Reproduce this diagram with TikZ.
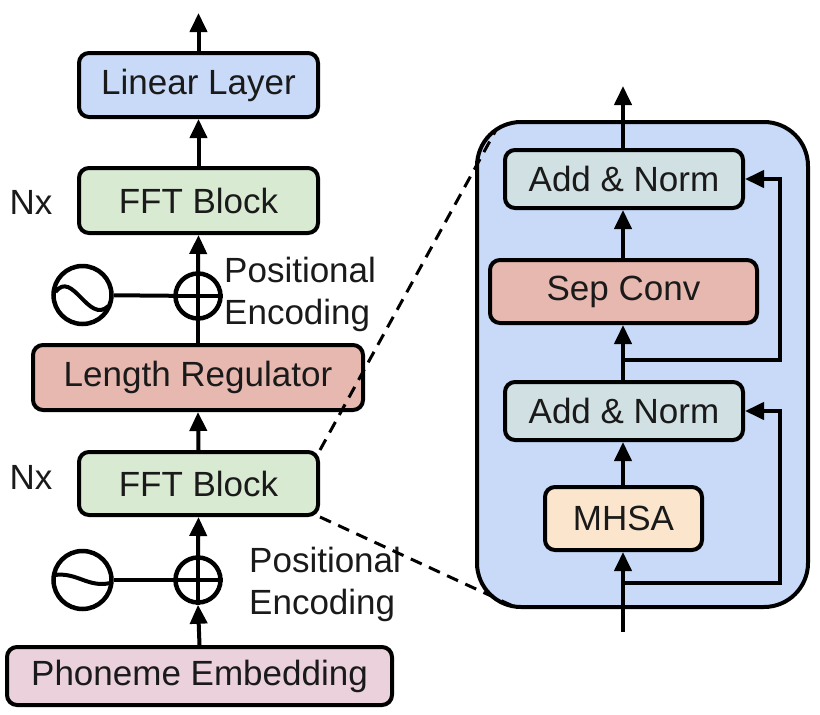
\documentclass[tikz,border=0pt]{standalone}
\usepackage{fontspec}
\setmainfont{Liberation Sans}
\usetikzlibrary{arrows.meta}
\definecolor{cblue}{HTML}{C9DAF8}
\definecolor{cgreen}{HTML}{D9EAD3}
\definecolor{cred}{HTML}{E6B8AF}
\definecolor{cpink}{HTML}{EAD1DC}
\definecolor{ccyan}{HTML}{D0E0E3}
\definecolor{corange}{HTML}{FCE5CD}
\definecolor{ctext}{HTML}{1A1A1A}
\tikzset{
  box/.style={draw=black, line width=4pt, rounded corners=10pt, inner sep=0pt, text=ctext, font=\fontsize{35}{42}\selectfont},
  lbl/.style={inner sep=0pt, text=ctext, font=\fontsize{35}{42}\selectfont},
  circ/.style={draw=black, line width=4.5pt, circle, inner sep=0pt},
  arr/.style={line width=4pt, -{Triangle[length=19pt,width=17pt]}},
  ln/.style={line width=4pt},
  dsh/.style={line width=3pt, dash pattern=on 12pt off 8pt}
}
\begin{document}
\begin{tikzpicture}[x=1pt,y=-1pt]
\useasboundingbox (0,0) rectangle (820,715);
% outer box (drawn first)
\node[box, fill=cblue, rounded corners=44pt, minimum width=331pt, minimum height=485pt] (outer) at (642.5,364.5) {};
% left column
\node[box, fill=cblue, minimum width=239pt, minimum height=64pt] (lin) at (198.5,85) {Linear Layer};
\node[box, fill=cgreen, minimum width=239pt, minimum height=65pt] (fft1) at (198.5,200.5) {FFT Block};
\node[circ, minimum size=45pt] (plus1) at (198,296) {};
\node[circ, minimum size=58pt] (sin1) at (82.5,295) {};
\node[box, fill=cred, minimum width=330pt, minimum height=65pt] (lr) at (198,377.5) {Length Regulator};
\node[box, fill=cgreen, minimum width=239pt, minimum height=63pt] (fft2) at (198.5,483.5) {FFT Block};
\node[circ, minimum size=45pt] (plus2) at (198,580) {};
\node[circ, minimum size=58pt] (sin2) at (82.5,580) {};
\node[box, fill=cpink, minimum width=385pt, minimum height=58pt] (pe) at (199.5,676) {Phoneme Embedding};
\node[lbl] (nx1) at (31,202) {Nx};
\node[lbl] (nx2) at (31,477) {Nx};
\node[lbl, anchor=west, align=left] (pos1) at (224,294) {Positional\\Encoding};
\node[lbl, anchor=west, align=left] (pos2) at (249,584) {Positional\\Encoding};
\coordinate (top1) at (198.5,13);
% plus signs
\foreach \p in {plus1,plus2}{
  \draw[ln] (\p.north) -- (\p.south);
  \draw[ln] (\p.west) -- (\p.east);
}
% sine waves
\draw[line width=4pt] ([shift={(-27,-3)}]sin1.center) .. controls ([shift={(-10,-26)}]sin1.center) and ([shift={(6,30)}]sin1.center) .. ([shift={(26,11)}]sin1.center);
\draw[line width=4pt] ([shift={(-28,-5)}]sin2.center) .. controls ([shift={(-5,-8)}]sin2.center) and ([shift={(5,8)}]sin2.center) .. ([shift={(28,3)}]sin2.center);
\draw[ln] (sin1) -- (plus1);
\draw[ln] (sin2) -- (plus2);
% left arrows
\draw[arr] (lin.north) -- (top1);
\draw[arr] (fft1.north) -- (lin.south);
\draw[arr] (plus1.north) -- (fft1.south);
\draw[ln] (lr.north) -- (plus1.south);
\draw[arr] (fft2.north) -- (lr.south);
\draw[arr] (plus2.north) -- (fft2.south);
\draw[arr] (pe.north) -- (plus2.south);
% right column
\node[box, fill=ccyan, minimum width=238pt, minimum height=58pt] (an1) at (624,179) {Add \& Norm};
\node[box, fill=cred, minimum width=267pt, minimum height=63pt] (sc) at (623.5,291.5) {Sep Conv};
\node[box, fill=ccyan, minimum width=238pt, minimum height=58pt] (an2) at (624,411) {Add \& Norm};
\node[box, fill=corange, minimum width=157pt, minimum height=63pt] (mh) at (623.5,518.5) {MHSA};
\coordinate (rtop) at (623,86);
\coordinate (rbot) at (623,632);
\coordinate (j1) at (623,583);
\coordinate (j2) at (623,360);
\coordinate (r1) at (780,583);
\coordinate (r2) at (780,360);
\draw[arr] (an1.north -| rtop) -- (rtop);
\draw[arr] (sc.north -| rtop) -- (an1.south -| rtop);
\draw[arr] (an2.north -| rtop) -- (sc.south -| rtop);
\draw[arr] (mh.north -| rtop) -- (an2.south -| rtop);
\draw[arr] (rbot) -- (mh.south -| rtop);
\draw[arr] (j1) -- (r1) -- (r1 |- an2.east) -- (an2.east);
\draw[arr] (j2) -- (r2) -- (r2 |- an1.east) -- (an1.east);
% dashed zoom lines
\coordinate (d1) at (496,130);
\coordinate (d2) at (515,607);
\draw[dsh] (fft2.north east) -- (d1);
\draw[dsh] (fft2.south east) -- (d2);
\end{tikzpicture}
\end{document}
